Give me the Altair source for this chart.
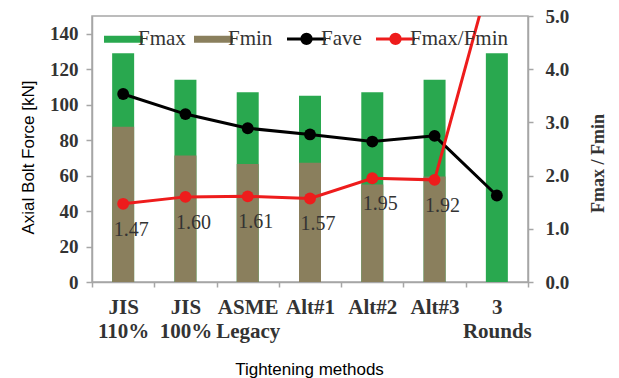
import altair as alt
import pandas as pd

# Bolt tightening results per method
methods = ["JIS 110%", "JIS 100%", "ASME Legacy", "Alt#1", "Alt#2", "Alt#3", "3 Rounds"]
f_max = [129, 114, 107, 105, 107, 114, 129]
f_min = [87.5, 71.3, 66.5, 67.2, 55.0, 59.5, None]
f_ave = [106.0, 94.7, 86.7, 83.2, 79.2, 82.4, 48.8]
ratio = [1.47, 1.60, 1.61, 1.57, 1.95, 1.92, 6.2]

series = ["Fmax", "Fmin", "Fave", "Fmax/Fmin"]
palette = ["#29a84f", "#8a7f5d", "#000000", "#ee1c1c"]

df = pd.DataFrame({
    "method": methods,
    "fmax": f_max,
    "fmin": f_min,
    "fave": f_ave,
    "ratio": ratio,
})

SERIF = "Liberation Serif"
SANS = "Liberation Sans"
INK = "#333333"
GREY = "#a6a6a6"

# legend swatches: flat bar for the columns, line with a dot for the lines
rect_path = "M-1,-0.18H1V0.18H-1Z"
dot_path = "M-1,0H1M-0.24,0A0.24,0.24,0,1,0,0.24,0A0.24,0.24,0,1,0,-0.24,0Z"
is_line = "indexof(['Fave','Fmax/Fmin'], datum.value) >= 0"

color_scale = alt.Scale(domain=series, range=palette)
legend = alt.Legend(
    title=None,
    orient="none",
    legendX=21,
    legendY=12,
    direction="horizontal",
    symbolSize=1521,
    symbolType={"expr": f"{is_line} ? '{dot_path}' : '{rect_path}'"},
    symbolFillColor={"expr": "scale('color', datum.value)"},
    symbolStrokeColor={"expr": "scale('color', datum.value)"},
    symbolStrokeWidth={"expr": f"{is_line} ? 3 : 0"},
    symbolOpacity=1,
    labelFont=SERIF,
    labelFontSize=21,
    labelColor=INK,
    labelOffset=4,
    columnPadding=8,
    padding=0,
)


def col():
    return alt.Color("series:N", scale=color_scale, legend=legend, sort=series)


x_enc = alt.X(
    "method:N",
    sort=methods,
    scale=alt.Scale(paddingInner=0, paddingOuter=0),
    axis=alt.Axis(
        title="Tightening methods",
        labelAngle=0,
        labelExpr="split(datum.label, ' ')",
        labelFontSize=21,
        labelLineHeight=24,
        labelBaseline="top",
        labelPadding=9,
        tickBand="extent",
        tickSize=5,
        titleFont=SANS,
        titleFontSize=17,
        titleFontWeight="normal",
        titleColor="black",
        titleX=217,
        titleY=87,
        titleBaseline="middle",
        titleAlign="center",
    ),
)

left_axis = alt.Axis(
    title="Axial Bolt Force [kN]",
    values=list(range(0, 141, 20)),
    tickSize=6,
    labelPadding=8,
    titleFont=SANS,
    titleFontSize=17,
    titleFontWeight="normal",
    titleColor="black",
    titleAngle=270,
    titleX=-64,
    titleY=141,
    titleBaseline="middle",
    titleAlign="center",
)
left_scale = alt.Scale(domain=[0, 150])

right_axis = alt.Axis(
    orient="right",
    title="Fmax / Fmin",
    values=[0, 1, 2, 3, 4, 5],
    format=".1f",
    tickSize=5,
    labelPadding=12,
    titleFont=SERIF,
    titleFontSize=18,
    titleFontWeight="bold",
    titleColor=INK,
    titleAngle=270,
    titleX=70,
    titleY=147,
    titleBaseline="middle",
    titleAlign="center",
)
right_scale = alt.Scale(domain=[0, 5])

base = alt.Chart(df).encode(x=x_enc)


def tagged(name):
    return base.transform_calculate(series=f"'{name}'")


bar_max = tagged("Fmax").mark_bar(size=22).encode(
    y=alt.Y("fmax:Q", scale=left_scale, axis=left_axis),
    color=col(),
)
bar_min = tagged("Fmin").mark_bar(size=22).encode(
    y=alt.Y("fmin:Q", scale=left_scale, axis=left_axis),
    color=col(),
)
fave_line = tagged("Fave").mark_line(strokeWidth=3).encode(
    y=alt.Y("fave:Q", scale=left_scale, axis=left_axis),
    color=col(),
)
fave_pts = tagged("Fave").mark_point(filled=True, size=140, opacity=1).encode(
    y=alt.Y("fave:Q", scale=left_scale, axis=left_axis),
    color=col(),
)

ratio_line = tagged("Fmax/Fmin").mark_line(strokeWidth=3, clip=True).encode(
    y=alt.Y("ratio:Q", scale=right_scale, axis=right_axis),
    color=col(),
)
ratio_pts = tagged("Fmax/Fmin").mark_point(filled=True, size=140, opacity=1, clip=True).encode(
    y=alt.Y("ratio:Q", scale=right_scale, axis=right_axis),
    color=col(),
)
ratio_text = base.mark_text(
    dx=8, dy=32, baseline="alphabetic", font=SERIF, fontSize=20, color=INK
).encode(
    y=alt.Y("ratio:Q", scale=right_scale, axis=right_axis),
    text=alt.Text("ratio:Q", format=".2f"),
).transform_filter("datum.ratio <= 5")

left = alt.layer(bar_max, bar_min, fave_line, fave_pts)
right = alt.layer(ratio_line, ratio_pts, ratio_text)

chart = (
    alt.layer(left, right)
    .resolve_scale(y="independent")
    .properties(
        width=436,
        height=266,
        autosize=alt.AutoSizeParams(type="none"),
        padding={"left": 92, "top": 16, "right": 91, "bottom": 96},
        background="white",
    )
    .configure_view(stroke=GREY, strokeWidth=1.5)
    .configure_axis(
        domainColor=GREY,
        tickColor=GREY,
        domainWidth=1.5,
        tickWidth=1.5,
        grid=False,
        labelFont=SERIF,
        labelFontWeight="bold",
        labelColor=INK,
        labelFontSize=19,
    )
)

chart.save("out.html", embed_options={"renderer": "svg", "actions": False})
